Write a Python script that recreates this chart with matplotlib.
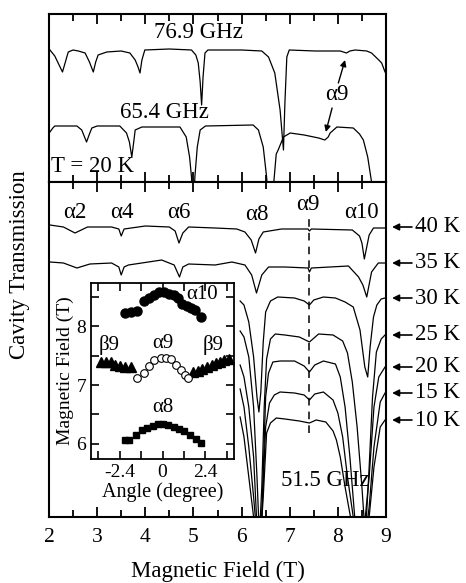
import matplotlib
matplotlib.use("Agg")
import matplotlib.pyplot as plt
from matplotlib.ticker import MultipleLocator, FixedLocator
import numpy as np

plt.rcParams['font.family'] = ['Liberation Serif', 'DejaVu Serif']

# ---------------- data (magnetic field in T, transmission in arbitrary units) ----------------
# Top panel, T = 20 K
b_769 = [2.02, 2.12, 2.20, 2.28, 2.34, 2.40, 2.50, 2.61, 2.75, 2.84, 2.92, 2.97, 3.02, 3.20, 3.50, 3.68,
         3.79, 3.85, 3.89, 3.93, 3.99, 4.50, 4.96, 5.05, 5.10, 5.14, 5.17, 5.20, 5.24, 5.30, 6.00, 6.42,
         6.56, 6.69, 6.80, 6.87, 6.90, 6.94, 6.99, 7.53, 8.05, 8.18, 8.25, 8.36, 8.60, 8.70, 8.85, 8.91, 8.98]
t_769 = [132, 126, 118, 110, 120, 130, 132, 131, 129, 120, 110, 120, 127, 130, 131, 129,
         122, 115, 109, 122, 132, 133, 132, 127, 119, 100, 77, 105, 129, 132, 132, 131,
         125, 109, 72, 32, 79, 125, 132, 131, 131, 129, 131, 132, 131, 129, 122, 119, 110]

b_654 = [2.02, 2.08, 2.12, 2.58, 2.68, 2.78, 2.84, 2.89, 3.00, 3.47, 3.61, 3.67, 3.72, 3.76, 3.79, 3.93,
         4.72, 4.85, 4.92, 4.96, 5.00, 5.03, 5.08, 5.14, 5.25, 6.24, 6.35, 6.45, 6.52, 6.58, 6.67, 6.72,
         6.76, 6.87, 7.01, 7.30, 7.60, 7.73, 7.80, 7.84, 7.98, 8.32, 8.45, 8.53, 8.62, 8.70, 8.80]
t_654 = [50, 54, 56, 56, 52, 40, 48, 54, 56, 56, 49, 40, 25, 40, 52, 55,
         55, 45, 25, 5, -30, 5, 35, 52, 56, 57, 52, 35, 5, -30, 0, 28,
         32, 45, 49, 47, 44, 42, 45, 49, 55, 54, 48, 42, 25, 0, -30]

# Bottom panel, 51.5 GHz
b_40 = [2.02, 2.30, 2.54, 2.80, 3.30, 3.45, 3.50, 3.56, 4.00, 4.50, 4.62, 4.70, 4.78, 4.90, 5.45, 5.90,
        6.07, 6.20, 6.29, 6.36, 6.45, 6.83, 7.38, 7.41, 7.45, 8.30, 8.45, 8.50, 8.55, 8.60, 8.65, 8.74, 8.98]
t_40 = [292, 290, 284, 290, 290, 288, 281, 288, 291, 290, 286, 274, 284, 290, 289, 288,
        285, 277, 264, 278, 285, 288, 288, 286, 288, 287, 281, 274, 258, 270, 282, 289, 289]

b_35 = [2.02, 2.30, 2.58, 2.85, 3.30, 3.45, 3.50, 3.56, 3.65, 4.34, 4.60, 4.71, 4.78, 4.90, 5.45, 5.80,
        6.07, 6.21, 6.31, 6.42, 6.56, 6.90, 7.38, 7.41, 7.45, 8.22, 8.43, 8.52, 8.60, 8.70, 8.84, 8.98]
t_35 = [255, 254, 249, 253, 254, 250, 242, 250, 252, 257, 252, 240, 250, 253, 252, 255,
        252, 242, 224, 242, 250, 250, 249, 245, 249, 251, 240, 232, 220, 245, 254, 254]

b_30 = [5.97, 6.05, 6.15, 6.25, 6.32, 6.36, 6.40, 6.45, 6.50, 6.60, 6.75, 7.10, 7.30, 7.41, 7.50, 7.70,
        7.95, 8.15, 8.32, 8.46, 8.56, 8.62, 8.67, 8.74, 8.81, 8.90, 8.98]
t_30 = [216, 212, 195, 160, 120, 105, 125, 175, 205, 216, 220, 219, 216, 212, 217, 220,
        219, 215, 210, 187, 150, 140, 170, 200, 212, 218, 219]

b_25 = [5.97, 6.05, 6.15, 6.25, 6.32, 6.37, 6.42, 6.47, 6.52, 6.60, 6.70, 6.90, 7.20, 7.41, 7.60, 7.90,
        8.10, 8.20, 8.30, 8.40, 8.50, 8.57, 8.64, 8.72, 8.80, 8.90, 8.98]
t_25 = [186, 180, 160, 110, 40, -20, 30, 110, 158, 178, 183, 182, 180, 175, 183, 182,
        176, 164, 135, 90, 30, -20, 40, 120, 165, 178, 182]

b_20 = [5.97, 6.05, 6.15, 6.25, 6.32, 6.37, 6.42, 6.50, 6.56, 6.65, 6.80, 7.10, 7.30, 7.41, 7.52, 7.70,
        7.95, 8.05, 8.15, 8.25, 8.35, 8.45, 8.55, 8.65, 8.75, 8.85, 8.98]
t_20 = [152, 140, 110, 60, -10, -40, 0, 120, 144, 155, 156, 156, 151, 145, 152, 156,
        153, 140, 110, 60, 0, -40, -10, 40, 110, 140, 150]

b_15 = [5.97, 6.05, 6.15, 6.25, 6.32, 6.37, 6.42, 6.50, 6.58, 6.68, 6.80, 7.10, 7.30, 7.41, 7.52, 7.70,
        7.90, 8.00, 8.10, 8.20, 8.32, 8.45, 8.55, 8.65, 8.75, 8.88, 8.98]
t_15 = [128, 110, 70, 20, -20, -40, 0, 90, 114, 122, 125, 124, 122, 117, 123, 125,
        117, 104, 80, 40, 0, -40, -30, 10, 70, 115, 124]

b_10 = [5.97, 6.05, 6.15, 6.25, 6.32, 6.37, 6.45, 6.52, 6.60, 6.72, 6.90, 7.20, 7.41, 7.55, 7.75, 7.90,
        7.97, 8.05, 8.15, 8.30, 8.45, 8.55, 8.65, 8.75, 8.88, 8.98]
t_10 = [100, 80, 40, 0, -30, -40, 20, 84, 94, 99, 98, 96, 94, 97, 95, 86,
        77, 60, 30, -10, -40, -30, 0, 50, 90, 97]

temp_labels = ['40 K', '35 K', '30 K', '25 K', '20 K', '15 K', '10 K']
temp_levels = [290, 254, 219, 182, 150, 124, 97]

mode_labels = ['α2', 'α4', 'α6', 'α8', 'α9', 'α10']
mode_pos = [2.54, 3.52, 4.70, 6.32, 7.38, 8.48]
mode_y = [304, 304, 304, 302, 312, 304]
alpha9_field = 7.41

# Inset: resonance field vs angle
ang_a10 = [-2.12, -1.79, -1.45, -1.04, -0.73, -0.45, -0.21, 0.07, 0.35, 0.63, 0.85, 1.10, 1.38, 1.60, 1.84, 2.18]
fld_a10 = [8.23, 8.24, 8.27, 8.43, 8.49, 8.54, 8.58, 8.59, 8.56, 8.53, 8.49, 8.39, 8.34, 8.31, 8.28, 8.16]
ang_b9l = [-3.46, -3.18, -2.90, -2.63, -2.35, -2.07, -1.79]
fld_b9l = [7.39, 7.39, 7.39, 7.35, 7.32, 7.31, 7.30]
ang_b9r = [1.73, 1.97, 2.22, 2.50, 2.78, 3.02, 3.24, 3.46, 3.70]
fld_b9r = [7.23, 7.24, 7.27, 7.30, 7.34, 7.38, 7.40, 7.42, 7.45]
ang_a9 = [-1.40, -1.05, -0.75, -0.45, -0.10, 0.20, 0.50, 0.75, 1.05, 1.25, 1.45]
fld_a9 = [7.12, 7.20, 7.33, 7.42, 7.47, 7.47, 7.44, 7.34, 7.25, 7.17, 7.12]
ang_a8 = [-2.12, -1.88, -1.51, -1.17, -0.85, -0.54, -0.26, 0.04, 0.32, 0.63, 0.91, 1.23, 1.56, 1.88, 2.18]
fld_a8 = [6.07, 6.07, 6.15, 6.24, 6.27, 6.31, 6.33, 6.33, 6.32, 6.29, 6.25, 6.21, 6.15, 6.08, 6.01]

# ---------------- figure ----------------
W, H = 466, 583
fig = plt.figure(figsize=(W / 100, H / 100), dpi=100)

def px_axes(x0, y0, x1, y1):
    return fig.add_axes([x0 / W, 1 - y1 / H, (x1 - x0) / W, (y1 - y0) / H])

ax_top = px_axes(49, 14, 386, 182)
ax_bot = px_axes(49, 182, 386, 517)

FS = 16.5
LW = 0.9
for ax in (ax_top, ax_bot):
    ax.set_xlim(2, 9)
    ax.xaxis.set_major_locator(MultipleLocator(1))
    ax.xaxis.set_minor_locator(MultipleLocator(0.5))
    ax.tick_params(axis='x', which='both', direction='in', top=True, bottom=True, width=1.3)
    ax.tick_params(axis='x', which='major', length=7)
    ax.tick_params(axis='x', which='minor', length=5)
    ax.tick_params(axis='y', left=False, right=False, labelleft=False)
    for s in ax.spines.values():
        s.set_linewidth(1.5)

ax_top.set_ylim(0, 168)
ax_top.tick_params(axis='x', labelbottom=False)
ax_bot.set_ylim(0, 335)
ax_bot.tick_params(axis='x', labelsize=FS - 1, pad=8)
ax_bot.set_xlabel('Magnetic Field (T)', fontsize=FS, labelpad=10)
fig.text(20 / W, 1 - 265 / H, 'Cavity Transmission', rotation=90, fontsize=FS,
         ha='center', va='center')

# top traces
ax_top.plot(b_769, t_769, color='black', lw=LW)
ax_top.plot(b_654, t_654, color='black', lw=LW)
ax_top.text(5.10, 149, '76.9 GHz', fontsize=FS, ha='center', va='center')
ax_top.text(4.39, 69, '65.4 GHz', fontsize=FS, ha='center', va='center')
ax_top.text(2.05, 15, 'T = 20 K', fontsize=FS, ha='left', va='center')
ax_top.text(7.98, 87, 'α9', fontsize=FS, ha='center', va='center')
arrow_kw = dict(arrowstyle='-|>', color='black', lw=1.0, mutation_scale=9, shrinkA=0, shrinkB=0)
ax_top.annotate('', xy=(8.15, 122), xytext=(8.01, 99), arrowprops=arrow_kw)
ax_top.annotate('', xy=(7.75, 50), xytext=(7.88, 74), arrowprops=arrow_kw)

# bottom traces
for b, t in [(b_40, t_40), (b_35, t_35), (b_30, t_30), (b_25, t_25), (b_20, t_20), (b_15, t_15), (b_10, t_10)]:
    ax_bot.plot(b, t, color='black', lw=LW)
ax_bot.plot([alpha9_field, alpha9_field], [84, 304], color='black', lw=1.1, ls=(0, (5, 4)))
for lab, xpos, ypos in zip(mode_labels, mode_pos, mode_y):
    ax_bot.text(xpos, ypos, lab, fontsize=FS, ha='center', va='center')
ax_bot.text(7.73, 37, '51.5 GHz', fontsize=FS, ha='center', va='center')

for lab, lev in zip(temp_labels, temp_levels):
    ax_bot.annotate('', xy=(1.018, lev), xycoords=('axes fraction', 'data'),
                    xytext=(1.077, lev), textcoords=('axes fraction', 'data'),
                    arrowprops=dict(arrowstyle='-|>', color='black', lw=1.2, mutation_scale=10,
                                    shrinkA=0, shrinkB=0), annotation_clip=False)
    ax_bot.text(1.087, lev, lab, transform=ax_bot.get_yaxis_transform(), fontsize=FS,
                ha='left', va='center', clip_on=False)

# inset
ax_in = px_axes(91, 283, 234, 459)
ax_in.set_facecolor('white')
ax_in.set_xlim(-4, 4)
ax_in.set_ylim(5.74, 8.74)
ax_in.xaxis.set_major_locator(FixedLocator([-2.4, 0, 2.4]))
ax_in.xaxis.set_minor_locator(FixedLocator([-3.6, -1.2, 1.2, 3.6]))
ax_in.set_xticklabels(['-2.4', '0', '2.4'])
ax_in.yaxis.set_major_locator(MultipleLocator(1))
ax_in.yaxis.set_minor_locator(MultipleLocator(0.5))
ax_in.tick_params(which='both', direction='in', top=True, bottom=True, left=True, right=True,
                  width=1.2, labelsize=14)
ax_in.tick_params(which='major', length=6)
ax_in.tick_params(which='minor', length=6)
for s in ax_in.spines.values():
    s.set_linewidth(1.3)
ax_in.set_xlabel('Angle (degree)', fontsize=14.5, labelpad=1)
ax_in.set_ylabel('Magnetic Field (T)', fontsize=14, labelpad=2)

ax_in.plot(ang_a10, fld_a10, 'o', color='black', ms=6.5)
ax_in.plot(ang_b9l, fld_b9l, '^', color='black', ms=6.5)
ax_in.plot(ang_b9r, fld_b9r, '^', color='black', ms=6.5)
ax_in.plot(ang_a9, fld_a9, 'o', mfc='white', mec='black', mew=0.8, ms=5.5)
ax_in.plot(ang_a8, fld_a8, 's', color='black', ms=5)
ax_in.text(2.2, 8.54, 'α10', fontsize=15, ha='center', va='center')
ax_in.text(-3.0, 7.69, 'β9', fontsize=15, ha='center', va='center')
ax_in.text(0.0, 7.71, 'α9', fontsize=15, ha='center', va='center')
ax_in.text(2.85, 7.69, 'β9', fontsize=15, ha='center', va='center')
ax_in.text(0.0, 6.61, 'α8', fontsize=15, ha='center', va='center')

fig.savefig('out.png', dpi=100)
